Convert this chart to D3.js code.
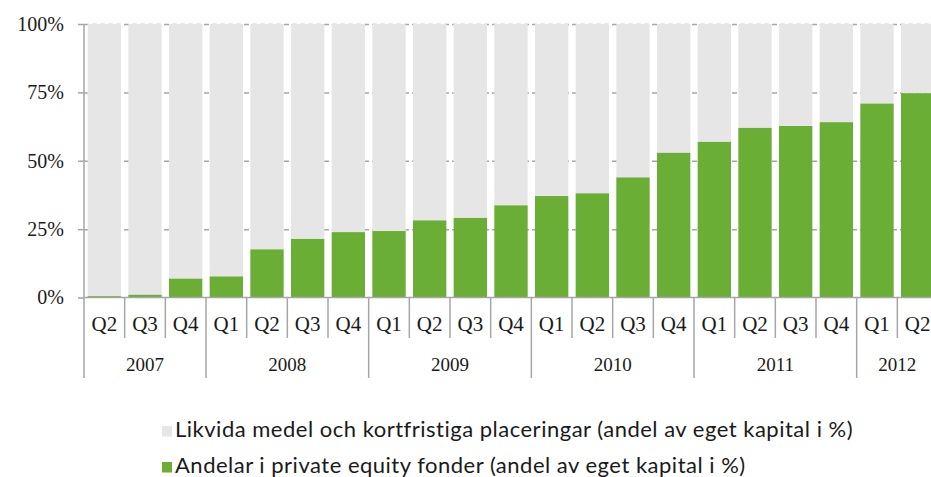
<!DOCTYPE html>
<html>
<head>
<meta charset="utf-8">
<script src="https://cdn.jsdelivr.net/npm/d3@7"></script>
<style>
  body { margin: 0; background: #fff; }
  svg { display: block; }
</style>
</head>
<body>
<div class="content"></div>
<script>
// quarters and years on the x axis
var quarters = ['Q2','Q3','Q4','Q1','Q2','Q3','Q4','Q1','Q2','Q3','Q4','Q1','Q2','Q3','Q4','Q1','Q2','Q3','Q4','Q1','Q2'];
var years = ['2007','2007','2007','2008','2008','2008','2008','2009','2009','2009','2009','2010','2010','2010','2010','2011','2011','2011','2011','2012','2012'];

// share of equity in PE funds (%)
var peFunds = [0.5, 1, 6.9, 7.7, 17.6, 21.4, 23.9, 24.3, 28.2, 29.1, 33.7, 37.1, 38.1, 43.9, 52.9, 56.9, 62.0, 62.7, 64.1, 70.9, 74.7];
// cash and short term placements (%)
var liquid = [99.5, 99, 93.1, 92.3, 82.4, 78.6, 76.1, 75.7, 71.8, 70.9, 66.3, 62.9, 61.9, 56.1, 47.1, 43.1, 38.0, 37.3, 35.9, 29.1, 25.3];

var yTicks = [0, 25, 50, 75, 100];
var legendLabels = [
    'Likvida medel och kortfristiga placeringar (andel av eget kapital i %)',
    'Andelar i private equity fonder (andel av eget kapital i %)'
];

var chart = {
    width: 931,
    height: 477,
    left: 84,
    right: 938,
    top: 24,
    bottom: 297.5,
    green: '#6aae35',
    grey: '#e6e6e6',
    axisColor: '#a6a6a6',
    serif: "'Liberation Serif', 'DejaVu Serif', serif",
    sans: "Lato, 'Open Sans', sans-serif"
};

var svg = d3.select('.content').append('svg')
    .attr('width', chart.width)
    .attr('height', chart.height);

var x = d3.scaleBand()
    .domain(d3.range(quarters.length))
    .range([chart.left, chart.right])
    .paddingInner(0.18)
    .paddingOuter(0.09);

var y = d3.scaleLinear().domain([0, 100]).range([chart.bottom, chart.top]);

// dashed gridlines
svg.append('g')
    .attr('transform', 'translate(' + chart.left + ',0)')
    .call(d3.axisLeft(y).tickValues(yTicks.slice(1)).tickSize(-(chart.width - chart.left)).tickFormat(''))
    .call(function(g) {
        g.select('.domain').remove();
        g.selectAll('line').attr('stroke', chart.axisColor).attr('stroke-width', 1.5).attr('stroke-dasharray', '5,3');
    });

var stacked = quarters.map(function(q, i) { return {i: i, pe: peFunds[i], liq: liquid[i]}; });

var bars = svg.append('g');
bars.selectAll('rect.liq').data(stacked).enter().append('rect')
    .attr('class', 'liq')
    .attr('x', function(d) { return x(d.i); })
    .attr('width', x.bandwidth())
    .attr('y', function(d) { return y(d.pe + d.liq); })
    .attr('height', function(d) { return y(d.pe) - y(d.pe + d.liq); })
    .attr('fill', chart.grey);
bars.selectAll('rect.pe').data(stacked).enter().append('rect')
    .attr('class', 'pe')
    .attr('x', function(d) { return x(d.i); })
    .attr('width', x.bandwidth())
    .attr('y', function(d) { return y(d.pe); })
    .attr('height', function(d) { return y(0) - y(d.pe); })
    .attr('fill', chart.green);

// y axis
svg.append('g')
    .attr('transform', 'translate(' + chart.left + ',0)')
    .attr('font-family', chart.serif)
    .attr('font-size', 20)
    .call(d3.axisLeft(y).tickValues(yTicks).tickSize(6).tickPadding(14).tickFormat(function(d) { return d + '%'; }))
    .call(function(g) {
        g.attr('font-family', chart.serif).attr('font-size', 20);
        g.select('.domain').attr('stroke', chart.axisColor).attr('stroke-width', 1.5).attr('d', 'M0,' + chart.top + 'V' + chart.bottom);
        g.selectAll('line').attr('stroke', chart.axisColor).attr('stroke-width', 1.5);
        g.selectAll('text').attr('fill', '#1a1a1a');
    });

// x axis: baseline, quarter dividers and year dividers
var xa = svg.append('g').attr('font-family', chart.serif).attr('fill', '#1a1a1a');
xa.append('line')
    .attr('x1', chart.left).attr('x2', chart.width)
    .attr('y1', chart.bottom).attr('y2', chart.bottom)
    .attr('stroke', chart.axisColor).attr('stroke-width', 1.5);

var step = x.step();
var edges = d3.range(quarters.length + 1).map(function(i) {
    return {pos: chart.left + i * step, yearEdge: i === 0 || i === quarters.length || years[i] !== years[i - 1]};
});
xa.selectAll('line.div').data(edges).enter().append('line')
    .attr('class', 'div')
    .attr('x1', function(d) { return d.pos; }).attr('x2', function(d) { return d.pos; })
    .attr('y1', chart.bottom)
    .attr('y2', function(d) { return d.yearEdge ? 378 : 338; })
    .attr('stroke', chart.axisColor).attr('stroke-width', 1.5);

xa.selectAll('text.q').data(quarters).enter().append('text')
    .attr('class', 'q')
    .attr('x', function(d, i) { return x(i) + x.bandwidth() / 2; })
    .attr('y', 331)
    .attr('text-anchor', 'middle')
    .attr('font-size', 21)
    .text(function(d) { return d; });

var yearGroups = d3.groups(d3.range(years.length), function(i) { return years[i]; });
xa.selectAll('text.yr').data(yearGroups).enter().append('text')
    .attr('class', 'yr')
    .attr('x', function(d) {
        var first = d[1][0], last = d[1][d[1].length - 1];
        return chart.left + (first + (last + 1)) * step / 2;
    })
    .attr('y', 371)
    .attr('text-anchor', 'middle')
    .attr('font-size', 19)
    .text(function(d) { return d[0]; });

// legend
var legend = svg.append('g').attr('transform', 'translate(162,0)');
var legendRows = [{label: legendLabels[0], color: chart.grey, y: 437}, {label: legendLabels[1], color: chart.green, y: 473}];
legend.selectAll('rect').data(legendRows).enter().append('rect')
    .attr('x', 0).attr('y', function(d) { return d.y - 11; })
    .attr('width', 10).attr('height', 10.5)
    .attr('fill', function(d) { return d.color; });
legend.selectAll('text').data(legendRows).enter().append('text')
    .attr('x', 13).attr('y', function(d) { return d.y; })
    .attr('font-family', chart.sans).attr('font-size', 22).attr('letter-spacing', 0.5).attr('fill', '#1a1a1a')
    .text(function(d) { return d.label; });
</script>
</body>
</html>
